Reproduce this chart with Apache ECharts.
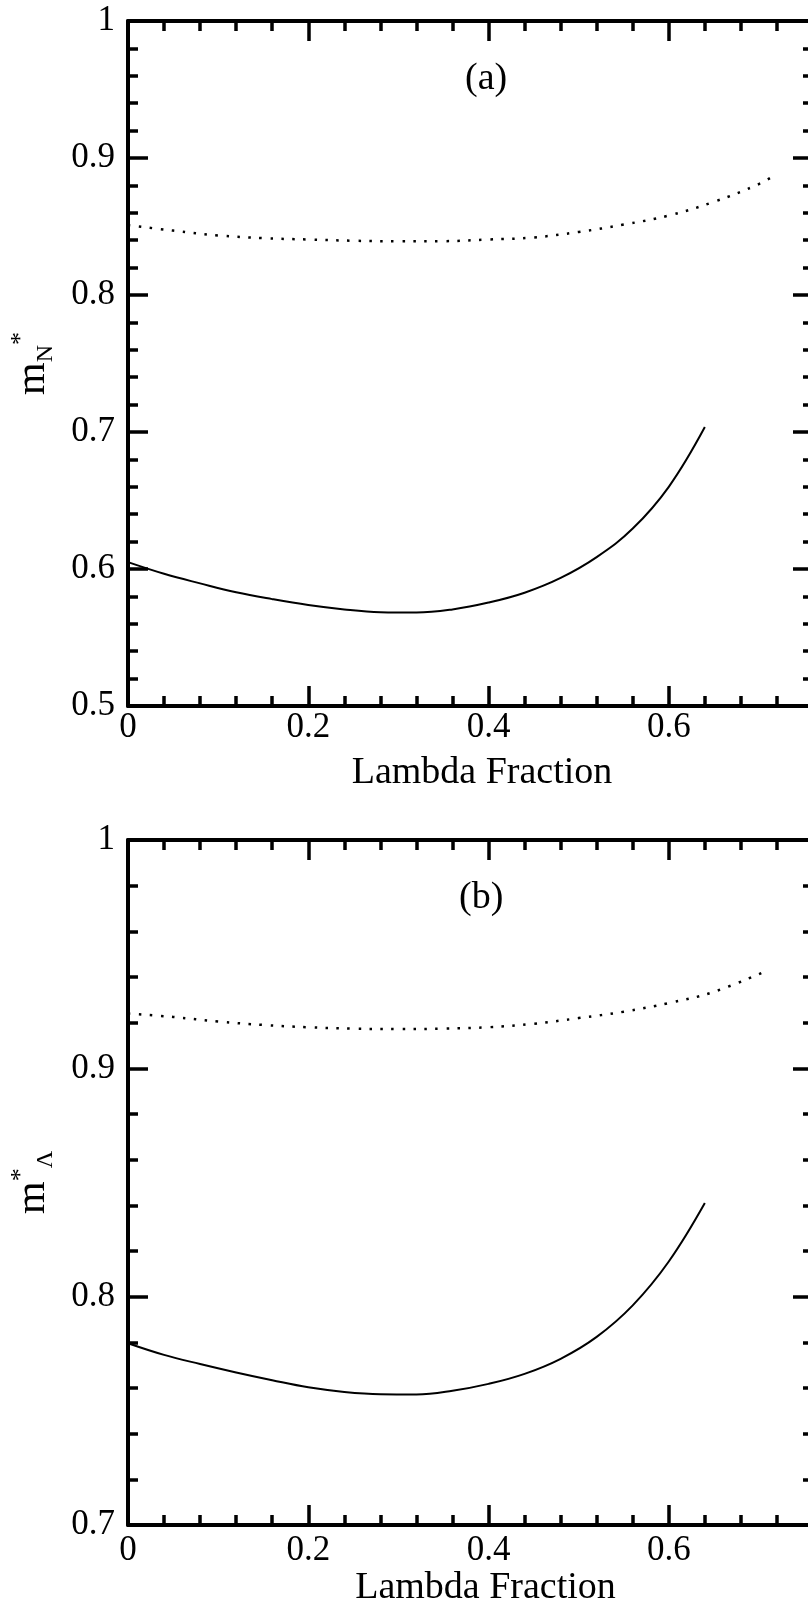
<!DOCTYPE html>
<html>
<head>
<meta charset="utf-8">
<script src="https://cdn.jsdelivr.net/npm/echarts@6/dist/echarts.min.js"></script>
<style>
html,body{margin:0;padding:0;background:#fff;}
#chart{width:808px;height:1608px;}
</style>
</head>
<body>
<div id="chart"></div>
<script>
// Panel (a): nucleon effective mass m_N*
var aDottedX = [0, 0.05, 0.1, 0.15, 0.2, 0.25, 0.3, 0.35, 0.4, 0.45, 0.5, 0.55, 0.6, 0.65, 0.7, 0.72];
var aDottedY = [0.851, 0.847, 0.8435, 0.8415, 0.8405, 0.8396, 0.8392, 0.8393, 0.8405, 0.842, 0.846, 0.8514, 0.858, 0.868, 0.881, 0.8886];
var aSolidX = [0, 0.04, 0.08, 0.12, 0.16, 0.2, 0.24, 0.28, 0.32, 0.36, 0.4, 0.44, 0.48, 0.52, 0.56, 0.6, 0.64];
var aSolidY = [0.605, 0.5965, 0.5895, 0.583, 0.578, 0.5737, 0.5705, 0.5685, 0.5682, 0.5705, 0.5755, 0.5827, 0.5935, 0.6087, 0.6295, 0.660, 0.7036];
// Panel (b): lambda effective mass m_Lambda*
var bDottedX = [0, 0.05, 0.1, 0.15, 0.2, 0.25, 0.3, 0.35, 0.4, 0.45, 0.5, 0.55, 0.6, 0.65, 0.71];
var bDottedY = [0.924, 0.9225, 0.9205, 0.919, 0.918, 0.9174, 0.9172, 0.9174, 0.918, 0.9195, 0.922, 0.9248, 0.9286, 0.9335, 0.943];
var bSolidX = [0, 0.04, 0.08, 0.12, 0.16, 0.2, 0.24, 0.28, 0.32, 0.36, 0.4, 0.44, 0.48, 0.52, 0.56, 0.6, 0.64];
var bSolidY = [0.7796, 0.7745, 0.7705, 0.7668, 0.7634, 0.7603, 0.7583, 0.7573, 0.7572, 0.7588, 0.7618, 0.7662, 0.7728, 0.7824, 0.7962, 0.8154, 0.841];

var xTitle = 'Lambda Fraction';
var panelLabels = ['(a)', '(b)'];
var xRange = [0, 0.76];
var aYRange = [0.5, 1];
var bYRange = [0.7, 1];

function pairs(xs, ys) { return xs.map(function (x, i) { return [x, ys[i]]; }); }

var FONT = 'Liberation Serif';
var BLACK = '#000';

function xAxisBottom(gi, labelMargin, nameGap, namePad) {
  return {
    type: 'value', gridIndex: gi, position: 'bottom', min: xRange[0], max: xRange[1], interval: 0.2,
    axisLine: { show: true, onZero: false, lineStyle: { color: BLACK, width: 4 } },
    axisTick: { show: true, inside: true, length: 20, lineStyle: { color: BLACK, width: 3.5 } },
    minorTick: { show: true, splitNumber: 5, length: 10, lineStyle: { color: BLACK, width: 3.5 } },
    splitLine: { show: false },
    axisLabel: { show: true, margin: labelMargin, color: BLACK, fontFamily: FONT, fontSize: 35, showMaxLabel: false },
    name: xTitle, nameLocation: 'middle', nameGap: nameGap,
    nameTextStyle: { color: BLACK, fontFamily: FONT, fontSize: 38, padding: [0, 0, 0, namePad] }
  };
}
function xAxisTop(gi) {
  return {
    type: 'value', gridIndex: gi, position: 'top', min: xRange[0], max: xRange[1], interval: 0.2,
    axisLine: { show: true, onZero: false, lineStyle: { color: BLACK, width: 4 } },
    axisTick: { show: true, inside: true, length: 20, lineStyle: { color: BLACK, width: 3.5 } },
    minorTick: { show: true, splitNumber: 5, length: 10, lineStyle: { color: BLACK, width: 3.5 } },
    splitLine: { show: false }, axisLabel: { show: false }
  };
}
function yAxisLeft(gi, range, name, rich) {
  return {
    type: 'value', gridIndex: gi, position: 'left', min: range[0], max: range[1], interval: 0.1,
    axisLine: { show: true, onZero: false, lineStyle: { color: BLACK, width: 4 } },
    axisTick: { show: true, inside: true, length: 20, lineStyle: { color: BLACK, width: 3.5 } },
    minorTick: { show: true, splitNumber: 5, length: 10, lineStyle: { color: BLACK, width: 3.5 } },
    splitLine: { show: false },
    axisLabel: { show: true, margin: 13, color: BLACK, fontFamily: FONT, fontSize: 35 },
    name: name, nameLocation: 'middle', nameGap: 70, nameRotate: 90,
    nameTextStyle: { color: BLACK, fontFamily: FONT, fontSize: 42, rich: rich }
  };
}
function yAxisRight(gi, range) {
  return {
    type: 'value', gridIndex: gi, position: 'right', min: range[0], max: range[1], interval: 0.1,
    axisLine: { show: true, onZero: false, lineStyle: { color: BLACK, width: 4 } },
    axisTick: { show: true, inside: true, length: 20, lineStyle: { color: BLACK, width: 3.5 } },
    minorTick: { show: true, splitNumber: 5, length: 10, lineStyle: { color: BLACK, width: 3.5 } },
    splitLine: { show: false }, axisLabel: { show: false }
  };
}

var richName = {
  m: { fontFamily: FONT, fontSize: 42, color: BLACK, lineHeight: 50 },
  sub: { fontFamily: FONT, fontSize: 24, color: BLACK, verticalAlign: 'bottom' },
  sup: { fontFamily: FONT, fontSize: 26, color: BLACK, verticalAlign: 'top' }
};

var chart = echarts.init(document.getElementById('chart'), null, { renderer: 'canvas' });
chart.setOption({
  backgroundColor: '#fff',
  animation: false,
  grid: [
    { left: 128, top: 21, width: 685, height: 685, outerBoundsMode: 'none', containLabel: false },
    { left: 128, top: 840, width: 685, height: 685, outerBoundsMode: 'none', containLabel: false }
  ],
  xAxis: [xAxisBottom(0, 4, 48, 23), xAxisTop(0), xAxisBottom(1, 8, 44, 30), xAxisTop(1)],
  yAxis: [
    yAxisLeft(0, aYRange, '{m|m}{sub|N}{sup|*}', richName), yAxisRight(0, aYRange),
    yAxisLeft(1, bYRange, '{m|m}{sup|*}{sub|Λ}', richName), yAxisRight(1, bYRange)
  ],
  graphic: [
    { type: 'text', left: 490 - 25, top: 60, style: { text: panelLabels[0], fontFamily: FONT, fontSize: 38, fill: BLACK } },
    { type: 'text', left: 484 - 25, top: 879, style: { text: panelLabels[1], fontFamily: FONT, fontSize: 38, fill: BLACK } }
  ],
  series: [
    { type: 'line', xAxisIndex: 0, yAxisIndex: 0, data: pairs(aDottedX, aDottedY), showSymbol: false, smooth: 0.4,
      lineStyle: { color: BLACK, width: 2.5, type: [2.5, 8.5] } },
    { type: 'line', xAxisIndex: 0, yAxisIndex: 0, data: pairs(aSolidX, aSolidY), showSymbol: false, smooth: 0.4,
      lineStyle: { color: BLACK, width: 2 } },
    { type: 'line', xAxisIndex: 2, yAxisIndex: 2, data: pairs(bDottedX, bDottedY), showSymbol: false, smooth: 0.4,
      lineStyle: { color: BLACK, width: 2.5, type: [2.5, 8.5] } },
    { type: 'line', xAxisIndex: 2, yAxisIndex: 2, data: pairs(bSolidX, bSolidY), showSymbol: false, smooth: 0.4,
      lineStyle: { color: BLACK, width: 2 } }
  ]
});
</script>
</body>
</html>
